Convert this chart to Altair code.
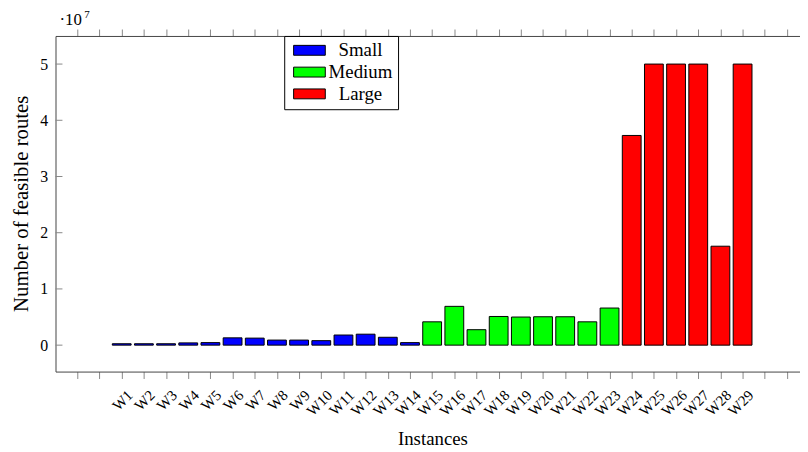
import altair as alt
import pandas as pd

# ---------------- data ----------------
instances = [f"W{i}" for i in range(1, 30)]
positions = list(range(1, 30))
values = [250000, 250000, 250000, 400000, 450000, 1300000, 1250000, 900000, 900000, 800000,
          1800000, 1950000, 1400000, 450000, 4150000, 6900000, 2750000, 5100000, 5000000, 5050000,
          5050000, 4150000, 6600000, 37300000, 50000000, 50000000, 50000000, 17600000, 50000000]
sizes = ["Small"] * 14 + ["Medium"] * 9 + ["Large"] * 6
size_order = ["Small", "Medium", "Large"]
size_colors = ["#0000ff", "#00ff00", "#ff0000"]
x_tick_positions = list(range(-1, 32))
y_tick_values = [0, 10000000, 20000000, 30000000, 40000000, 50000000]

FONT = "Liberation Serif"

df = pd.DataFrame({"instance": instances, "pos": positions, "value": values, "size": sizes})
xticks_df = pd.DataFrame({"pos": x_tick_positions})
yticks_df = pd.DataFrame({"value": y_tick_values})

x_scale = alt.Scale(domain=[-1.762, 31.366], nice=False, zero=False)
y_scale = alt.Scale(domain=[-4700000, 55000000], nice=False, zero=False)

bars = alt.Chart(df).mark_bar(size=19, stroke="black", strokeWidth=1).encode(
    x=alt.X("pos:Q", scale=x_scale,
            axis=alt.Axis(orient="bottom", values=x_tick_positions,
                          labelExpr="datum.value >= 1 && datum.value <= 29 ? 'W' + datum.value : ''",
                          labelAngle=315, labelAlign="right", labelBaseline="top",
                          labelPadding=9, labelOffset=3, labelOverlap=False, labelFlush=False,
                          labelFont=FONT, labelFontSize=15, labelColor="black",
                          tickSize=7, tickColor="#888888", domainColor="#444444", grid=False,
                          title="Instances", titleFont=FONT, titleFontSize=19,
                          titleFontWeight="normal", titleColor="black",
                          titleX=380.7, titleY=74, titleBaseline="alphabetic", titleAlign="center")),
    y=alt.Y("value:Q", scale=y_scale,
            axis=alt.Axis(values=y_tick_values, labelExpr="format(datum.value / 10000000, 'd')",
                          ticks=False, labelPadding=8, labelFont=FONT, labelFontSize=16,
                          labelColor="black", domainColor="#444444", grid=False,
                          title="Number of feasible routes", titleFont=FONT, titleFontSize=21,
                          titleFontWeight="normal", titleColor="black",
                          titleX=-28.5, titleY=169, titleAngle=270,
                          titleBaseline="alphabetic", titleAlign="center")),
    color=alt.Color("size:N",
                    scale=alt.Scale(domain=size_order, range=size_colors),
                    legend=alt.Legend(orient="none", legendX=231, legendY=0, title=None,
                                      symbolType="M-1,-1H5.4V1H-1Z", symbolSize=100,
                                      symbolStrokeColor="black", symbolStrokeWidth=1,
                                      symbolOpacity=1,
                                      labelFont=FONT, labelFontSize=19, labelColor="black",
                                      labelAlign="center", labelOffset=53,
                                      padding=5, rowPadding=2,
                                      strokeColor="black", fillColor="white", cornerRadius=0)),
)

# inward y ticks
ytick_rules = alt.Chart(yticks_df).mark_rule(color="#888888", strokeWidth=1).encode(
    y=alt.Y("value:Q", scale=y_scale),
    x=alt.value(0),
    x2=alt.value(7),
)

# top axis with outward ticks
top_axis = alt.Chart(xticks_df).mark_rule(opacity=0).encode(
    x=alt.X("pos:Q", scale=x_scale,
            axis=alt.Axis(orient="top", values=x_tick_positions, labels=False,
                          tickSize=7, tickColor="#888888", domainColor="#444444",
                          grid=False, title=None)),
)

exp_base = alt.Chart(pd.DataFrame({"t": ["·10"]})).mark_text(
    align="left", baseline="alphabetic", font=FONT, fontSize=17, color="black"
).encode(x=alt.value(4), y=alt.value(-10.7), text="t:N")

exp_sup = alt.Chart(pd.DataFrame({"t": ["7"]})).mark_text(
    align="left", baseline="alphabetic", font=FONT, fontSize=11, color="black"
).encode(x=alt.value(29), y=alt.value(-18), text="t:N")

chart = alt.layer(bars, ytick_rules, top_axis, exp_base, exp_sup).resolve_axis(
    x="independent"
).properties(
    width=752, height=339,
    autosize=alt.AutoSizeParams(type="none"),
    padding={"left": 48, "top": 26, "right": 0, "bottom": 79},
).configure_view(strokeWidth=0)

chart.save("out.html", embed_options={"renderer": "svg", "actions": False})
